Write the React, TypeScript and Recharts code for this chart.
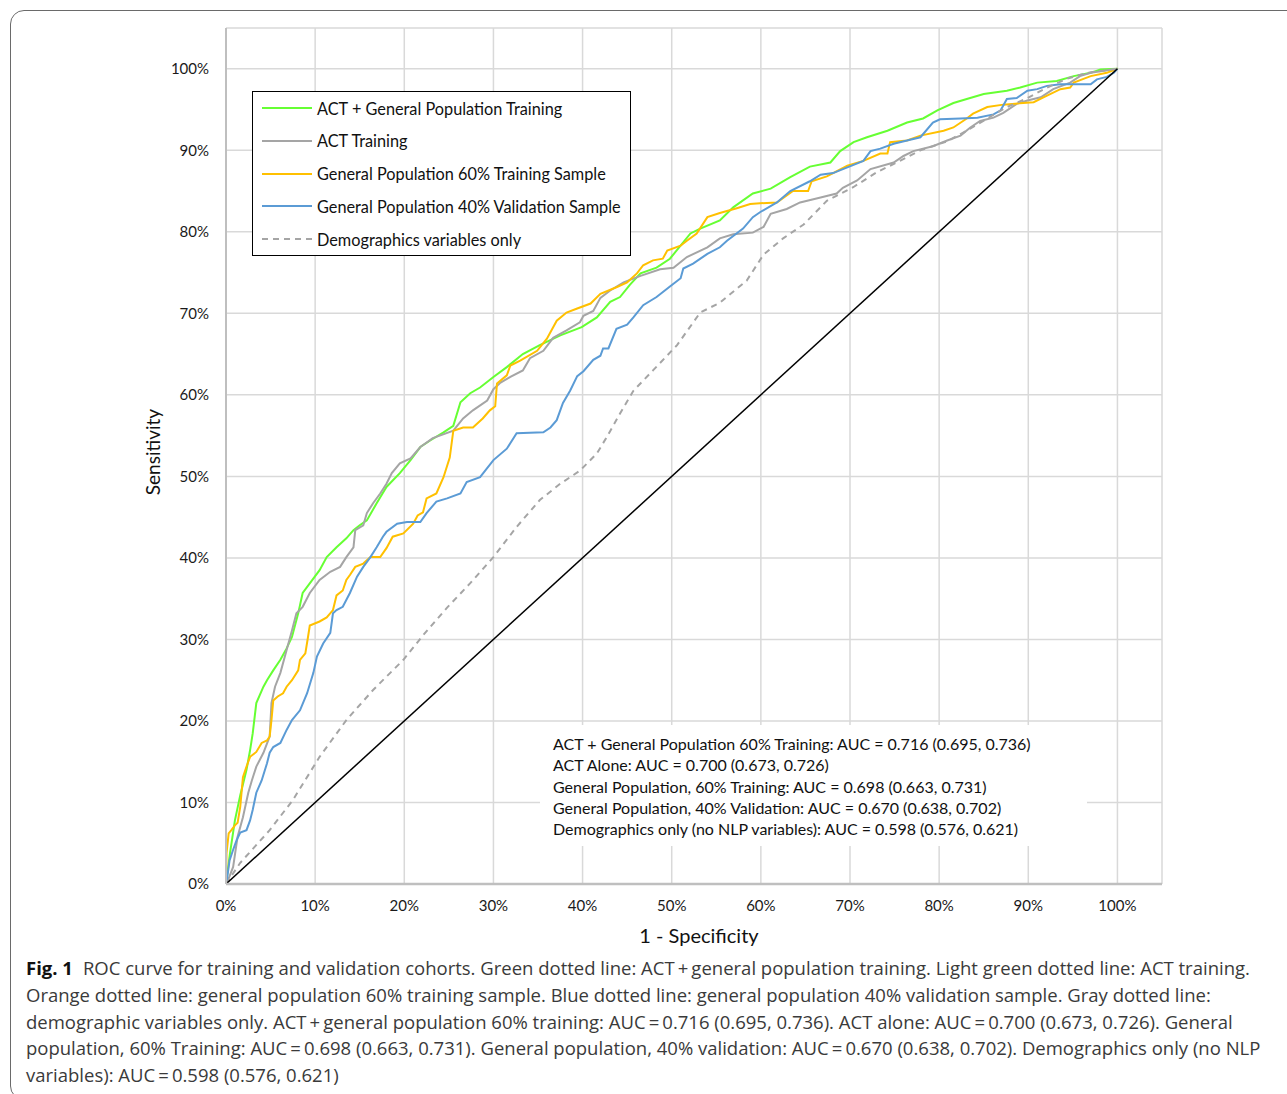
import React from 'react'
import { LineChart, Line, XAxis, YAxis, CartesianGrid } from 'recharts'

const font = 'Lato, "Open Sans", sans-serif'
const captionFont = '"Open Sans", "Noto Sans", sans-serif'

const ticks = [0, 0.1, 0.2, 0.3, 0.4, 0.5, 0.6, 0.7, 0.8, 0.9, 1]

// [1 - specificity, sensitivity]
const actGeneral: [number, number][] = [
  [0, 0], [0.002, 0.017], [0.0045, 0.038], [0.01, 0.078], [0.016, 0.109], [0.023, 0.14],
  [0.027, 0.164], [0.03, 0.185], [0.034, 0.222], [0.042, 0.242], [0.046, 0.25], [0.053, 0.262],
  [0.061, 0.275], [0.068, 0.289], [0.074, 0.303], [0.081, 0.332], [0.086, 0.357], [0.105, 0.385],
  [0.113, 0.401], [0.124, 0.413], [0.135, 0.424], [0.143, 0.434], [0.15, 0.44], [0.158, 0.446],
  [0.169, 0.467], [0.18, 0.487], [0.195, 0.504], [0.207, 0.52], [0.218, 0.536], [0.229, 0.544],
  [0.244, 0.554], [0.255, 0.562], [0.263, 0.591], [0.274, 0.602], [0.285, 0.609], [0.3, 0.622],
  [0.315, 0.634], [0.333, 0.65], [0.352, 0.661], [0.375, 0.673], [0.399, 0.683], [0.416, 0.695],
  [0.431, 0.714], [0.442, 0.72], [0.453, 0.735], [0.465, 0.749], [0.483, 0.756], [0.498, 0.767],
  [0.521, 0.798], [0.532, 0.804], [0.554, 0.814], [0.569, 0.83], [0.591, 0.847], [0.611, 0.853],
  [0.633, 0.867], [0.655, 0.88], [0.678, 0.885], [0.689, 0.899], [0.704, 0.91], [0.719, 0.916],
  [0.742, 0.924], [0.764, 0.934], [0.782, 0.939], [0.798, 0.949], [0.816, 0.958], [0.831, 0.963],
  [0.85, 0.969], [0.876, 0.973], [0.891, 0.977], [0.91, 0.983], [0.932, 0.985], [0.951, 0.991],
  [0.97, 0.995], [0.981, 0.999], [1, 1],
]

const actTraining: [number, number][] = [
  [0, 0], [0.001, 0.001], [0.008, 0.021], [0.013, 0.058], [0.019, 0.082], [0.025, 0.112],
  [0.029, 0.127], [0.034, 0.144], [0.042, 0.161], [0.049, 0.181], [0.051, 0.222], [0.055, 0.242],
  [0.061, 0.259], [0.068, 0.287], [0.074, 0.311], [0.079, 0.332], [0.086, 0.34], [0.094, 0.357],
  [0.105, 0.373], [0.117, 0.383], [0.128, 0.389], [0.135, 0.401], [0.143, 0.413], [0.145, 0.434],
  [0.154, 0.44], [0.158, 0.455], [0.165, 0.467], [0.173, 0.479], [0.18, 0.491], [0.186, 0.504],
  [0.195, 0.516], [0.207, 0.522], [0.218, 0.536], [0.232, 0.547], [0.255, 0.556], [0.266, 0.571],
  [0.277, 0.581], [0.293, 0.593], [0.3, 0.607], [0.308, 0.615], [0.319, 0.622], [0.333, 0.63],
  [0.341, 0.645], [0.356, 0.654], [0.367, 0.67], [0.382, 0.679], [0.397, 0.689], [0.401, 0.697],
  [0.412, 0.703], [0.42, 0.719], [0.431, 0.728], [0.446, 0.738], [0.465, 0.746], [0.487, 0.754],
  [0.502, 0.756], [0.517, 0.769], [0.54, 0.781], [0.554, 0.792], [0.569, 0.797], [0.591, 0.799],
  [0.603, 0.806], [0.611, 0.822], [0.629, 0.828], [0.644, 0.836], [0.667, 0.842], [0.685, 0.847],
  [0.692, 0.854], [0.708, 0.863], [0.723, 0.877], [0.749, 0.885], [0.76, 0.893], [0.771, 0.899],
  [0.793, 0.905], [0.809, 0.912], [0.824, 0.918], [0.835, 0.928], [0.846, 0.936], [0.861, 0.94],
  [0.872, 0.946], [0.887, 0.957], [0.899, 0.961], [0.914, 0.965], [0.928, 0.975], [0.947, 0.983],
  [0.958, 0.991], [0.97, 0.995], [1, 1],
]

const genPop60: [number, number][] = [
  [0, 0], [0.0006, 0.038], [0.003, 0.062], [0.006, 0.066], [0.01, 0.072], [0.013, 0.075],
  [0.016, 0.095], [0.019, 0.131], [0.023, 0.144], [0.027, 0.156], [0.034, 0.162], [0.04, 0.173],
  [0.046, 0.176], [0.049, 0.181], [0.051, 0.201], [0.053, 0.225], [0.058, 0.23], [0.064, 0.234],
  [0.068, 0.242], [0.074, 0.25], [0.081, 0.262], [0.083, 0.275], [0.089, 0.283], [0.092, 0.303],
  [0.094, 0.317], [0.105, 0.322], [0.113, 0.327], [0.12, 0.336], [0.124, 0.354], [0.131, 0.36],
  [0.135, 0.373], [0.139, 0.379], [0.145, 0.389], [0.154, 0.393], [0.162, 0.401], [0.173, 0.401],
  [0.18, 0.412], [0.187, 0.426], [0.199, 0.43], [0.21, 0.442], [0.215, 0.452], [0.221, 0.456],
  [0.225, 0.473], [0.236, 0.479], [0.244, 0.499], [0.251, 0.523], [0.255, 0.556], [0.266, 0.56],
  [0.277, 0.56], [0.288, 0.571], [0.296, 0.581], [0.302, 0.586], [0.304, 0.614], [0.315, 0.624],
  [0.319, 0.636], [0.33, 0.642], [0.349, 0.654], [0.36, 0.669], [0.371, 0.691], [0.382, 0.701],
  [0.394, 0.706], [0.409, 0.712], [0.42, 0.724], [0.438, 0.732], [0.45, 0.738], [0.461, 0.749],
  [0.468, 0.759], [0.479, 0.765], [0.49, 0.767], [0.495, 0.777], [0.51, 0.783], [0.517, 0.789],
  [0.528, 0.798], [0.54, 0.818], [0.554, 0.823], [0.573, 0.829], [0.588, 0.834], [0.599, 0.835],
  [0.618, 0.836], [0.636, 0.85], [0.653, 0.85], [0.657, 0.862], [0.674, 0.868], [0.697, 0.881],
  [0.715, 0.887], [0.734, 0.896], [0.742, 0.896], [0.745, 0.91], [0.764, 0.912], [0.779, 0.918],
  [0.805, 0.924], [0.816, 0.928], [0.831, 0.939], [0.838, 0.945], [0.854, 0.953], [0.872, 0.956],
  [0.906, 0.959], [0.917, 0.965], [0.936, 0.975], [0.947, 0.977], [0.951, 0.983], [0.97, 0.991],
  [0.988, 0.995], [1, 1],
]

const genPop40: [number, number][] = [
  [0, 0], [0.001, 0.005], [0.004, 0.029], [0.008, 0.042], [0.012, 0.054], [0.016, 0.063],
  [0.023, 0.066], [0.027, 0.078], [0.03, 0.091], [0.034, 0.112], [0.04, 0.127], [0.046, 0.148],
  [0.049, 0.161], [0.053, 0.168], [0.061, 0.173], [0.068, 0.189], [0.074, 0.201], [0.083, 0.213],
  [0.091, 0.234], [0.098, 0.259], [0.102, 0.279], [0.109, 0.295], [0.117, 0.308], [0.12, 0.332],
  [0.124, 0.336], [0.131, 0.34], [0.139, 0.357], [0.147, 0.377], [0.154, 0.389], [0.162, 0.401],
  [0.169, 0.413], [0.176, 0.426], [0.18, 0.432], [0.192, 0.442], [0.203, 0.444], [0.218, 0.444],
  [0.225, 0.455], [0.236, 0.469], [0.248, 0.473], [0.263, 0.479], [0.27, 0.493], [0.285, 0.499],
  [0.3, 0.52], [0.315, 0.534], [0.326, 0.553], [0.356, 0.554], [0.364, 0.56], [0.371, 0.569],
  [0.378, 0.59], [0.386, 0.605], [0.394, 0.623], [0.401, 0.629], [0.412, 0.643], [0.42, 0.648],
  [0.423, 0.657], [0.429, 0.657], [0.438, 0.681], [0.45, 0.686], [0.457, 0.695], [0.468, 0.71],
  [0.483, 0.72], [0.498, 0.733], [0.51, 0.743], [0.513, 0.755], [0.524, 0.761], [0.54, 0.773],
  [0.554, 0.781], [0.562, 0.789], [0.58, 0.804], [0.591, 0.818], [0.599, 0.824], [0.618, 0.836],
  [0.633, 0.85], [0.655, 0.862], [0.667, 0.87], [0.681, 0.872], [0.697, 0.879], [0.715, 0.887],
  [0.723, 0.899], [0.734, 0.902], [0.749, 0.908], [0.764, 0.912], [0.779, 0.916], [0.793, 0.934],
  [0.801, 0.938], [0.824, 0.939], [0.843, 0.94], [0.861, 0.944], [0.869, 0.949], [0.876, 0.963],
  [0.887, 0.964], [0.899, 0.973], [0.91, 0.975], [0.921, 0.979], [0.936, 0.981], [0.97, 0.981],
  [0.977, 0.987], [0.988, 0.99], [0.996, 0.995], [1, 1],
]

const demographics: [number, number][] = [
  [0, 0], [0.016, 0.026], [0.049, 0.066], [0.075, 0.103], [0.105, 0.156], [0.135, 0.201],
  [0.165, 0.238], [0.199, 0.275], [0.221, 0.305], [0.248, 0.339], [0.274, 0.369], [0.3, 0.401],
  [0.326, 0.438], [0.352, 0.471], [0.375, 0.491], [0.397, 0.507], [0.416, 0.528], [0.427, 0.548],
  [0.442, 0.577], [0.457, 0.605], [0.479, 0.63], [0.506, 0.661], [0.532, 0.701], [0.554, 0.713],
  [0.584, 0.74], [0.603, 0.772], [0.625, 0.792], [0.648, 0.809], [0.674, 0.838], [0.704, 0.855],
  [0.73, 0.873], [0.756, 0.887], [0.779, 0.9], [0.809, 0.911], [0.831, 0.924], [0.854, 0.939],
  [0.876, 0.953], [0.899, 0.964], [0.921, 0.977], [0.944, 0.988], [0.966, 0.995], [1, 1],
]

const chance: [number, number][] = [[0, 0], [1, 1]]

const series = [
  { key: 'actGeneral', name: 'ACT + General Population Training', data: actGeneral, color: '#66ff33', dash: undefined },
  { key: 'actTraining', name: 'ACT Training', data: actTraining, color: '#a5a5a5', dash: undefined },
  { key: 'genPop60', name: 'General Population 60% Training Sample', data: genPop60, color: '#ffc000', dash: undefined },
  { key: 'genPop40', name: 'General Population 40% Validation Sample', data: genPop40, color: '#5b9bd5', dash: undefined },
  { key: 'demographics', name: 'Demographics variables only', data: demographics, color: '#a5a5a5', dash: '6 5' },
]

const aucLines = [
  'ACT + General Population 60% Training: AUC = 0.716 (0.695, 0.736)',
  'ACT Alone: AUC = 0.700 (0.673, 0.726)',
  'General Population, 60% Training: AUC = 0.698 (0.663, 0.731)',
  'General Population, 40% Validation: AUC = 0.670 (0.638, 0.702)',
  'Demographics only (no NLP variables): AUC = 0.598 (0.576, 0.621)',
]

const captionLines = [
  'ROC curve for training and validation cohorts. Green dotted line: ACT\u2009+\u2009general population training. Light green dotted line: ACT training.',
  'Orange dotted line: general population 60% training sample. Blue dotted line: general population 40% validation sample. Gray dotted line:',
  'demographic variables only. ACT\u2009+\u2009general population 60% training: AUC\u2009=\u20090.716 (0.695, 0.736). ACT alone: AUC\u2009=\u20090.700 (0.673, 0.726). General',
  'population, 60% Training: AUC\u2009=\u20090.698 (0.663, 0.731). General population, 40% validation: AUC\u2009=\u20090.670 (0.638, 0.702). Demographics only (no NLP',
  'variables): AUC\u2009=\u20090.598 (0.576, 0.621)',
]

const pts = (arr: [number, number][]) => arr.map(([x, y]) => ({ x, y }))
const pct = (v: number) => `${Math.round(v * 100)}%`
const tickStyle = { fill: '#1a1a1a', fontSize: 15, fontFamily: font }

export default function App() {
  return (
    <div style={{ position: 'absolute', left: 0, top: 0, width: 1287, height: 1094, overflow: 'hidden', background: '#fff', fontFamily: font }}>
      <div style={{ position: 'absolute', left: 10, top: 10, width: 1320, height: 1090, border: '1.5px solid #6a6a6a', borderRadius: 14, boxSizing: 'border-box' }} />

      <div style={{ position: 'absolute', left: 0, top: 0 }}>
        <LineChart width={1287} height={940} margin={{ top: 28, right: 125, bottom: 16, left: 0 }}>
          <CartesianGrid stroke="#d9d9d9" strokeWidth={1.5} />
          <XAxis
            type="number" dataKey="x" domain={[0, 1.05]} ticks={ticks} interval={0} allowDataOverflow
            tickFormatter={pct} tick={tickStyle} tickLine={false} tickSize={0} tickMargin={16} height={40}
            axisLine={{ stroke: '#bfbfbf', strokeWidth: 2.5 }}
          />
          <YAxis
            type="number" dataKey="y" domain={[0, 1.05]} ticks={ticks} interval={0} allowDataOverflow
            tickFormatter={pct} tick={tickStyle} tickLine={false} tickSize={0} tickMargin={17} width={226}
            axisLine={{ stroke: '#bfbfbf', strokeWidth: 2 }}
          />
          {series.map(s => (
            <Line
              key={s.key} name={s.name} data={pts(s.data)} dataKey="y" type="linear"
              stroke={s.color} strokeWidth={2} strokeDasharray={s.dash} dot={false} activeDot={false}
              isAnimationActive={false}
            />
          ))}
          <Line name="chance" data={pts(chance)} dataKey="y" type="linear" stroke="#000" strokeWidth={1.5} dot={false} activeDot={false} isAnimationActive={false} />
        </LineChart>
      </div>

      {/* legend */}
      <div style={{ position: 'absolute', left: 252, top: 91, width: 379, height: 165, border: '1.5px solid #000', background: '#fff', boxSizing: 'border-box' }}>
        {series.map((s, i) => (
          <div key={s.key} style={{ position: 'absolute', left: 9, top: 5 + i * 32.75, height: 22, display: 'flex', alignItems: 'center', whiteSpace: 'nowrap' }}>
            <svg width={50} height={4} style={{ marginRight: 5 }}>
              <line x1={0} y1={2} x2={50} y2={2} stroke={s.color} strokeWidth={2} strokeDasharray={s.dash} />
            </svg>
            <span style={{ fontSize: 16.3, color: '#111' }}>{s.name}</span>
          </div>
        ))}
      </div>

      {/* AUC summary */}
      <div style={{ position: 'absolute', left: 540, top: 725, width: 547, height: 121, background: '#fff', padding: '8px 0 0 13px', boxSizing: 'border-box' }}>
        {aucLines.map(t => (
          <div key={t} style={{ fontSize: 16, lineHeight: '21.3px', color: '#111', whiteSpace: 'nowrap' }}>{t}</div>
        ))}
      </div>

      {/* axis titles */}
      <div style={{ position: 'absolute', left: 152, top: 452, transform: 'translate(-50%, -50%) rotate(-90deg)', fontSize: 19, color: '#111', whiteSpace: 'nowrap' }}>Sensitivity</div>
      <div style={{ position: 'absolute', left: 699, top: 935, transform: 'translate(-50%, -50%)', fontSize: 20, color: '#111', whiteSpace: 'nowrap' }}>1 - Specificity</div>

      {/* caption */}
      <div style={{ position: 'absolute', left: 26, top: 955, fontFamily: captionFont, fontSize: 18.5, lineHeight: '26.75px', color: '#3a3a3a', whiteSpace: 'nowrap' }}>
        {captionLines.map((t, i) => (
          <div key={i}>
            {i === 0 && <b style={{ color: '#111', marginRight: 10 }}>Fig. 1</b>}
            {t}
          </div>
        ))}
      </div>
    </div>
  )
}
